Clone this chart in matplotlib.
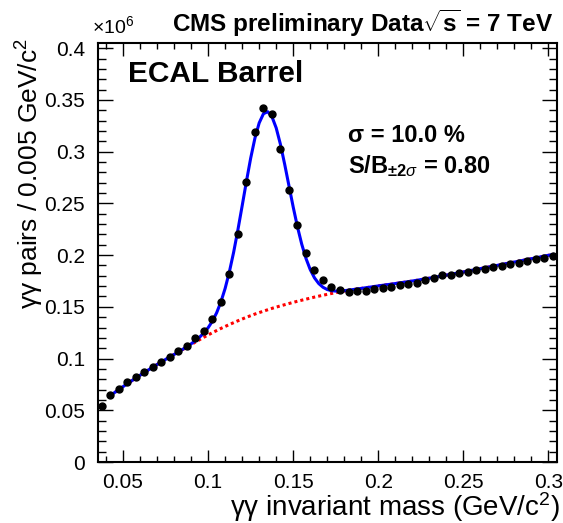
import numpy as np
import matplotlib
matplotlib.use('Agg')
import matplotlib.pyplot as plt
from matplotlib.ticker import MultipleLocator, FuncFormatter

plt.rcParams['font.family'] = ['Liberation Sans', 'DejaVu Sans']
plt.rcParams['mathtext.fontset'] = 'custom'
plt.rcParams['mathtext.rm'] = 'Liberation Sans'
plt.rcParams['mathtext.bf'] = 'Liberation Sans:bold'
plt.rcParams['mathtext.it'] = 'Liberation Sans:italic'

# histogram binning (GeV/c^2)
bin_lo = 0.035
bin_width = 0.005

# gamma-gamma pairs per bin
pairs = [54000, 64400, 70800, 77200, 82400, 86800, 92300, 96500, 101900, 107700,
         112600, 119700, 127000, 138200, 154500, 181600, 220500, 270500, 318600, 342600,
         335900, 302600, 262800, 228800, 202400, 185300, 175600, 169200, 166300, 164400,
         165000, 165400, 167000, 168600, 169200, 171200, 172100, 173400, 176000, 178200,
         180500, 181100, 182400, 184000, 185900, 186500, 188500, 189700, 191300, 192600,
         194200, 196400, 197400, 199000]

# background part of the fit, evaluated at the bin centres from 0.0425 on
background = [64200, 70000, 75700, 81200, 86500, 91700, 96700, 101600, 106300, 111000,
              115900, 120600, 125000, 129100, 132900, 136500, 139900, 143000, 145800, 148500,
              150900, 153200, 155400, 157400, 159400, 161200, 162900, 164500, 165900, 167200,
              168400, 169600, 170800, 171900, 173100, 174300, 175600, 177000, 178400, 179900,
              181400, 182900, 184500, 186100, 187700, 189300, 190900, 192500, 194100, 195700,
              197300, 199000, 200600]

# full fit (signal + background)
fit_mass = [0.0425, 0.0475, 0.0525, 0.0575, 0.0625, 0.0675, 0.0725, 0.0775, 0.0825, 0.0875,
            0.0900, 0.0925, 0.0950, 0.0975, 0.1000, 0.1025, 0.1050, 0.1075, 0.1100, 0.1125,
            0.1150, 0.1175, 0.1200, 0.1225, 0.1250, 0.1275, 0.1300, 0.1325, 0.1350, 0.1375,
            0.1400, 0.1425, 0.1450, 0.1475, 0.1500, 0.1525, 0.1550, 0.1575, 0.1600, 0.1625,
            0.1650, 0.1675, 0.1700, 0.1725, 0.1750, 0.1775, 0.1800, 0.1825, 0.1875, 0.1925,
            0.1975, 0.2025, 0.2075, 0.2125, 0.2175, 0.2225, 0.2275, 0.2325, 0.2375, 0.2425,
            0.2475, 0.2525, 0.2575, 0.2625, 0.2675, 0.2725, 0.2775, 0.2825, 0.2875, 0.2925,
            0.2975, 0.3025]
fit_total = [64200, 70000, 75700, 81200, 86500, 91700, 96700, 101600, 106300, 111400,
             114200, 117300, 120700, 124800, 129800, 136100, 144200, 154700, 167800, 183900,
             202800, 224400, 247600, 271200, 293600, 313000, 327700, 336600, 338600, 333800,
             322900, 307000, 287700, 267000, 246400, 227300, 210600, 196800, 186000, 178000,
             172500, 168900, 166700, 165600, 165200, 165300, 165600, 166100, 167200, 168400,
             169600, 170800, 171900, 173100, 174300, 175600, 177000, 178400, 179900, 181400,
             182900, 184500, 186100, 187700, 189300, 190900, 192500, 194100, 195700, 197300,
             199000, 200600]

mass = bin_lo + bin_width * (np.arange(len(pairs)) + 0.5)
scale = 1e-6

fig = plt.figure(figsize=(5.63, 5.23), dpi=100)
ax = fig.add_axes([0.1732, 0.1166, 0.8161, 0.8012])

ax.plot(mass[1:], np.array(background) * scale, color=(1, 0, 0), lw=2.2,
        linestyle=(0, (1, 1)), dash_capstyle='butt', zorder=2)
ax.plot(fit_mass, np.array(fit_total) * scale, color=(0, 0, 1), lw=2.2, zorder=3)
ax.plot(mass, np.array(pairs) * scale, 'o', color='black', ms=5, zorder=4)

ax.set_xlim(0.035, 0.305)
ax.set_ylim(0, 0.405)

ax.xaxis.set_major_locator(MultipleLocator(0.05))
ax.xaxis.set_minor_locator(MultipleLocator(0.01))
ax.yaxis.set_major_locator(MultipleLocator(0.05))
ax.yaxis.set_minor_locator(MultipleLocator(0.01))
fmt = FuncFormatter(lambda v, p: '%g' % round(v, 3))
ax.xaxis.set_major_formatter(fmt)
ax.yaxis.set_major_formatter(fmt)

ax.tick_params(which='both', direction='in', top=True, right=True, labelsize=15, width=1)
ax.tick_params(axis='y', which='major', length=11, pad=9)
ax.tick_params(axis='y', which='minor', length=5.5)
ax.tick_params(axis='x', which='major', length=9, pad=8)
ax.tick_params(axis='x', which='minor', length=4.5)
for s in ax.spines.values():
    s.set_linewidth(1.5)

ax.set_xlabel('γγ invariant mass (GeV/c$^{2}$)', fontsize=20, ha='right', va='top')
ax.xaxis.set_label_coords(1.006, -0.068)
ax.set_ylabel('γγ pairs / 0.005 GeV/c$^{2}$', fontsize=19, ha='right', va='bottom')
ax.yaxis.set_label_coords(-0.112, 1.012)

fig.text(0.163, 0.937, r'$\times$10$^{6}$', fontsize=14, ha='left', va='baseline')
fig.text(0.983, 0.939, r'CMS preliminary Data$\sqrt{\mathbf{s}}$ = 7 TeV', fontsize=17.5,
         fontweight='bold', ha='right', va='baseline')

ax.text(0.066, 0.907, 'ECAL Barrel', transform=ax.transAxes, fontsize=21.5, fontweight='bold')
ax.text(0.545, 0.764, 'σ = 10.0 %', transform=ax.transAxes, fontsize=17, fontweight='bold')
ax.text(0.545, 0.69, r'S/B$_{\mathbf{\pm 2}\sigma}$ = 0.80', transform=ax.transAxes,
        fontsize=17, fontweight='bold')

fig.savefig('out.png', dpi=100)
